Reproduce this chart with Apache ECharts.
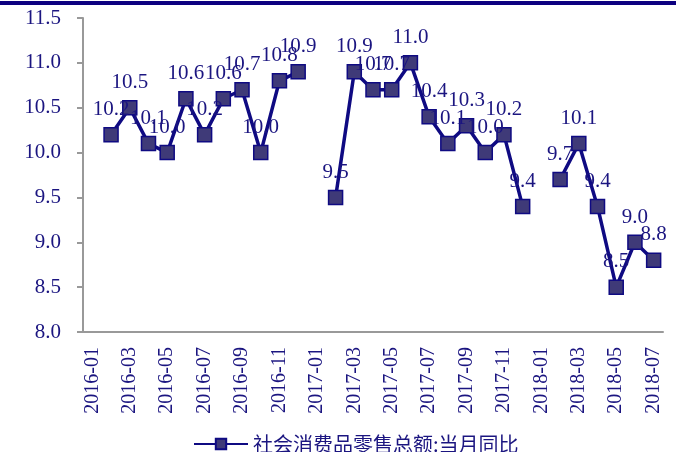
<!DOCTYPE html>
<html>
<head>
<meta charset="utf-8">
<script src="https://cdn.jsdelivr.net/npm/echarts@6/dist/echarts.min.js"></script>
<style>
  html, body { margin: 0; padding: 0; background: #fff; }
  #main { width: 676px; height: 452px; }
</style>
</head>
<body>
<div id="main"></div>
<script>
// months on the x axis (Jan/Feb are published together, so Jan is empty)
const months = [
  '2016-01','2016-02','2016-03','2016-04','2016-05','2016-06','2016-07','2016-08','2016-09','2016-10','2016-11','2016-12',
  '2017-01','2017-02','2017-03','2017-04','2017-05','2017-06','2017-07','2017-08','2017-09','2017-10','2017-11','2017-12',
  '2018-01','2018-02','2018-03','2018-04','2018-05','2018-06','2018-07'
];

// 社会消费品零售总额:当月同比 (%)
const retailYoY = [
  null, 10.2, 10.5, 10.1, 10.0, 10.6, 10.2, 10.6, 10.7, 10.0, 10.8, 10.9,
  null, 9.5, 10.9, 10.7, 10.7, 11.0, 10.4, 10.1, 10.3, 10.0, 10.2, 9.4,
  null, 9.7, 10.1, 9.4, 8.5, 9.0, 8.8
];

const seriesName = '社会消费品零售总额:当月同比';

const navy = '#0f0a82';
const textColor = '#1b1580';
const serif = "'Liberation Serif', 'Times New Roman', serif";

var myChart = echarts.init(document.getElementById('main'));

var option = {
  animation: false,
  graphic: [
    {
      type: 'rect',
      left: 0,
      top: 1,
      shape: { width: 676, height: 4 },
      style: { fill: '#0d0080' }
    }
  ],
  grid: {
    left: 83,
    right: 13,
    top: 18,
    bottom: 120
  },
  legend: {
    data: [seriesName],
    left: 188,
    top: 429,
    itemWidth: 54,
    itemHeight: 13,
    itemGap: 4,
    textStyle: {
      fontFamily: "'Noto Sans CJK SC'",
      fontSize: 20,
      color: textColor
    }
  },
  xAxis: {
    type: 'category',
    data: months,
    boundaryGap: true,
    axisLine: { lineStyle: { color: '#999', width: 2 } },
    axisTick: {
      interval: 1,
      alignWithLabel: false,
      length: 6,
      lineStyle: { color: '#999', width: 2 }
    },
    axisLabel: {
      interval: 1,
      rotate: 90,
      margin: 15,
      fontFamily: serif,
      fontSize: 20,
      color: textColor
    }
  },
  yAxis: {
    type: 'value',
    min: 8,
    max: 11.5,
    interval: 0.5,
    splitLine: { show: false },
    axisLine: { show: true, lineStyle: { color: '#999', width: 2 } },
    axisTick: { show: true, length: 6, lineStyle: { color: '#999', width: 2 } },
    axisLabel: {
      margin: 22,
      fontFamily: serif,
      fontSize: 21,
      color: textColor,
      formatter: function (v) { return v.toFixed(1); }
    }
  },
  series: [
    {
      name: seriesName,
      type: 'line',
      data: retailYoY,
      connectNulls: false,
      showAllSymbol: true,
      symbol: 'rect',
      symbolSize: 14,
      lineStyle: { color: navy, width: 3.5 },
      itemStyle: { color: '#3f3a78', borderColor: navy, borderWidth: 1.5 },
      label: {
        show: true,
        position: 'top',
        distance: 7,
        fontFamily: serif,
        fontSize: 21,
        color: textColor,
        formatter: function (p) { return p.value.toFixed(1); }
      },
      labelLayout: { hideOverlap: false }
    }
  ]
};

myChart.setOption(option);
</script>
</body>
</html>
